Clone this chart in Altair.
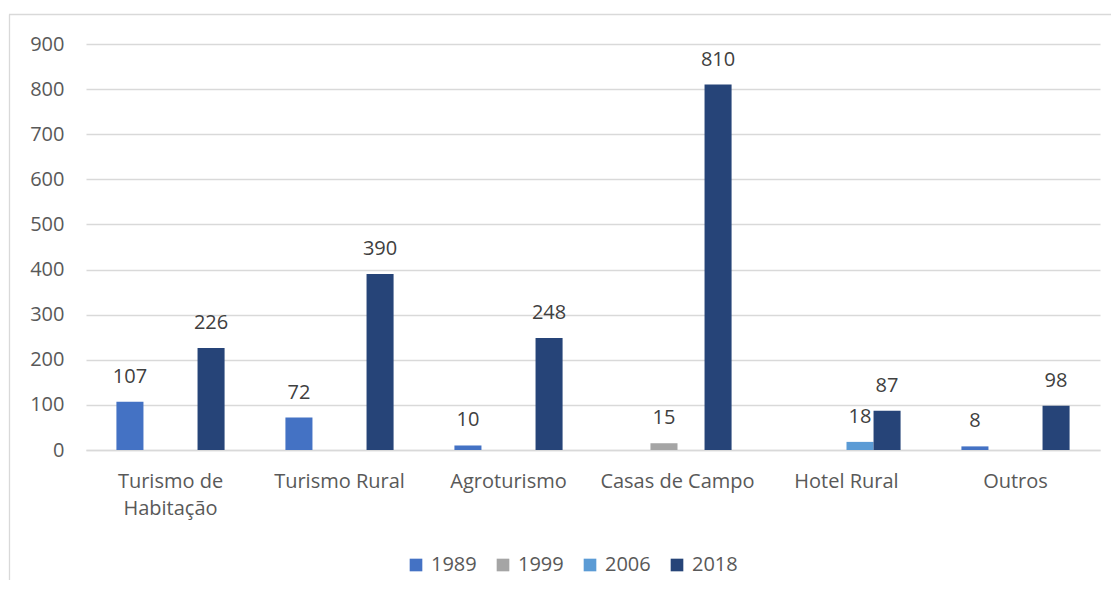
import altair as alt
import pandas as pd

categories = ["Turismo de Habitação", "Turismo Rural", "Agroturismo",
              "Casas de Campo", "Hotel Rural", "Outros"]
years = ["1989", "1999", "2006", "2018"]
v1989 = [107, 72, 10, None, None, 8]
v1999 = [None, None, None, 15, None, None]
v2006 = [None, None, None, None, 18, None]
v2018 = [226, 390, 248, 810, 87, 98]
colors = ["#4472C4", "#A5A5A5", "#5B9BD5", "#264478"]
y_ticks = [0, 100, 200, 300, 400, 500, 600, 700, 800, 900]

rows = []
for yr, series in zip(years, [v1989, v1999, v2006, v2018]):
    for c, v in zip(categories, series):
        if v is not None:
            rows.append({"cat": c, "year": yr, "value": v})
df = pd.DataFrame(rows)

FONT = "Open Sans"
FS = 20

x_enc = alt.X("cat:N", sort=categories, title=None,
              scale=alt.Scale(paddingInner=0.36, paddingOuter=0.18),
              axis=alt.Axis(labelAngle=0, ticks=False, labelPadding=21,
                            labelFontSize=FS, labelFont=FONT, labelColor="#595959",
                            domainColor="#D9D9D9", domainWidth=1.3,
                            labelLineHeight=27,
                            labelExpr="datum.label == 'Turismo de Habitação' ? ['Turismo de', 'Habitação'] : datum.label"))
xo_enc = alt.XOffset("year:N", sort=years, scale=alt.Scale(domain=years, paddingInner=0, paddingOuter=0))
y_enc = alt.Y("value:Q", title=None,
              scale=alt.Scale(domain=[0, 900], nice=False),
              axis=alt.Axis(values=y_ticks, ticks=False, domain=False, labelPadding=22,
                            labelFontSize=FS, labelFont=FONT, labelColor="#595959",
                            gridColor="#D9D9D9", gridWidth=1.3))

base = alt.Chart(df).encode(x=x_enc, xOffset=xo_enc)

bars = base.mark_bar().encode(
    y=y_enc,
    color=alt.Color("year:N", sort=years,
                    scale=alt.Scale(domain=years, range=colors),
                    legend=alt.Legend(title=None, orient="none", direction="horizontal",
                                      legendX=320, legendY=511,
                                      symbolType="square", symbolSize=160,
                                      symbolStrokeWidth=0,
                                      labelFontSize=FS, labelFont=FONT, labelColor="#595959",
                                      labelOffset=5, columnPadding=16)),
)

labels = base.mark_text(font=FONT, fontSize=FS, color="#404040",
                        baseline="alphabetic", dy=-19).encode(
    y="value:Q",
    text="value:Q",
)

frame_df = pd.DataFrame({"k": [0]})
top_line = alt.Chart(frame_df).mark_rule(color="#D9D9D9", strokeWidth=1.3).encode(
    x=alt.value(-77), x2=alt.value(1030), y=alt.value(-29.5))
left_line = alt.Chart(frame_df).mark_rule(color="#D9D9D9", strokeWidth=1.3).encode(
    x=alt.value(-76.5), y=alt.value(-29.5), y2=alt.value(600))

chart = alt.layer(top_line, left_line, bars, labels).properties(
    width=1014, height=406,
    autosize=alt.AutoSizeParams(type="none"),
    padding={"left": 78, "top": 36, "right": 11, "bottom": 130},
    background="white",
).configure_view(stroke=None)

chart.save("out.html", embed_options={"renderer": "svg", "actions": False})
